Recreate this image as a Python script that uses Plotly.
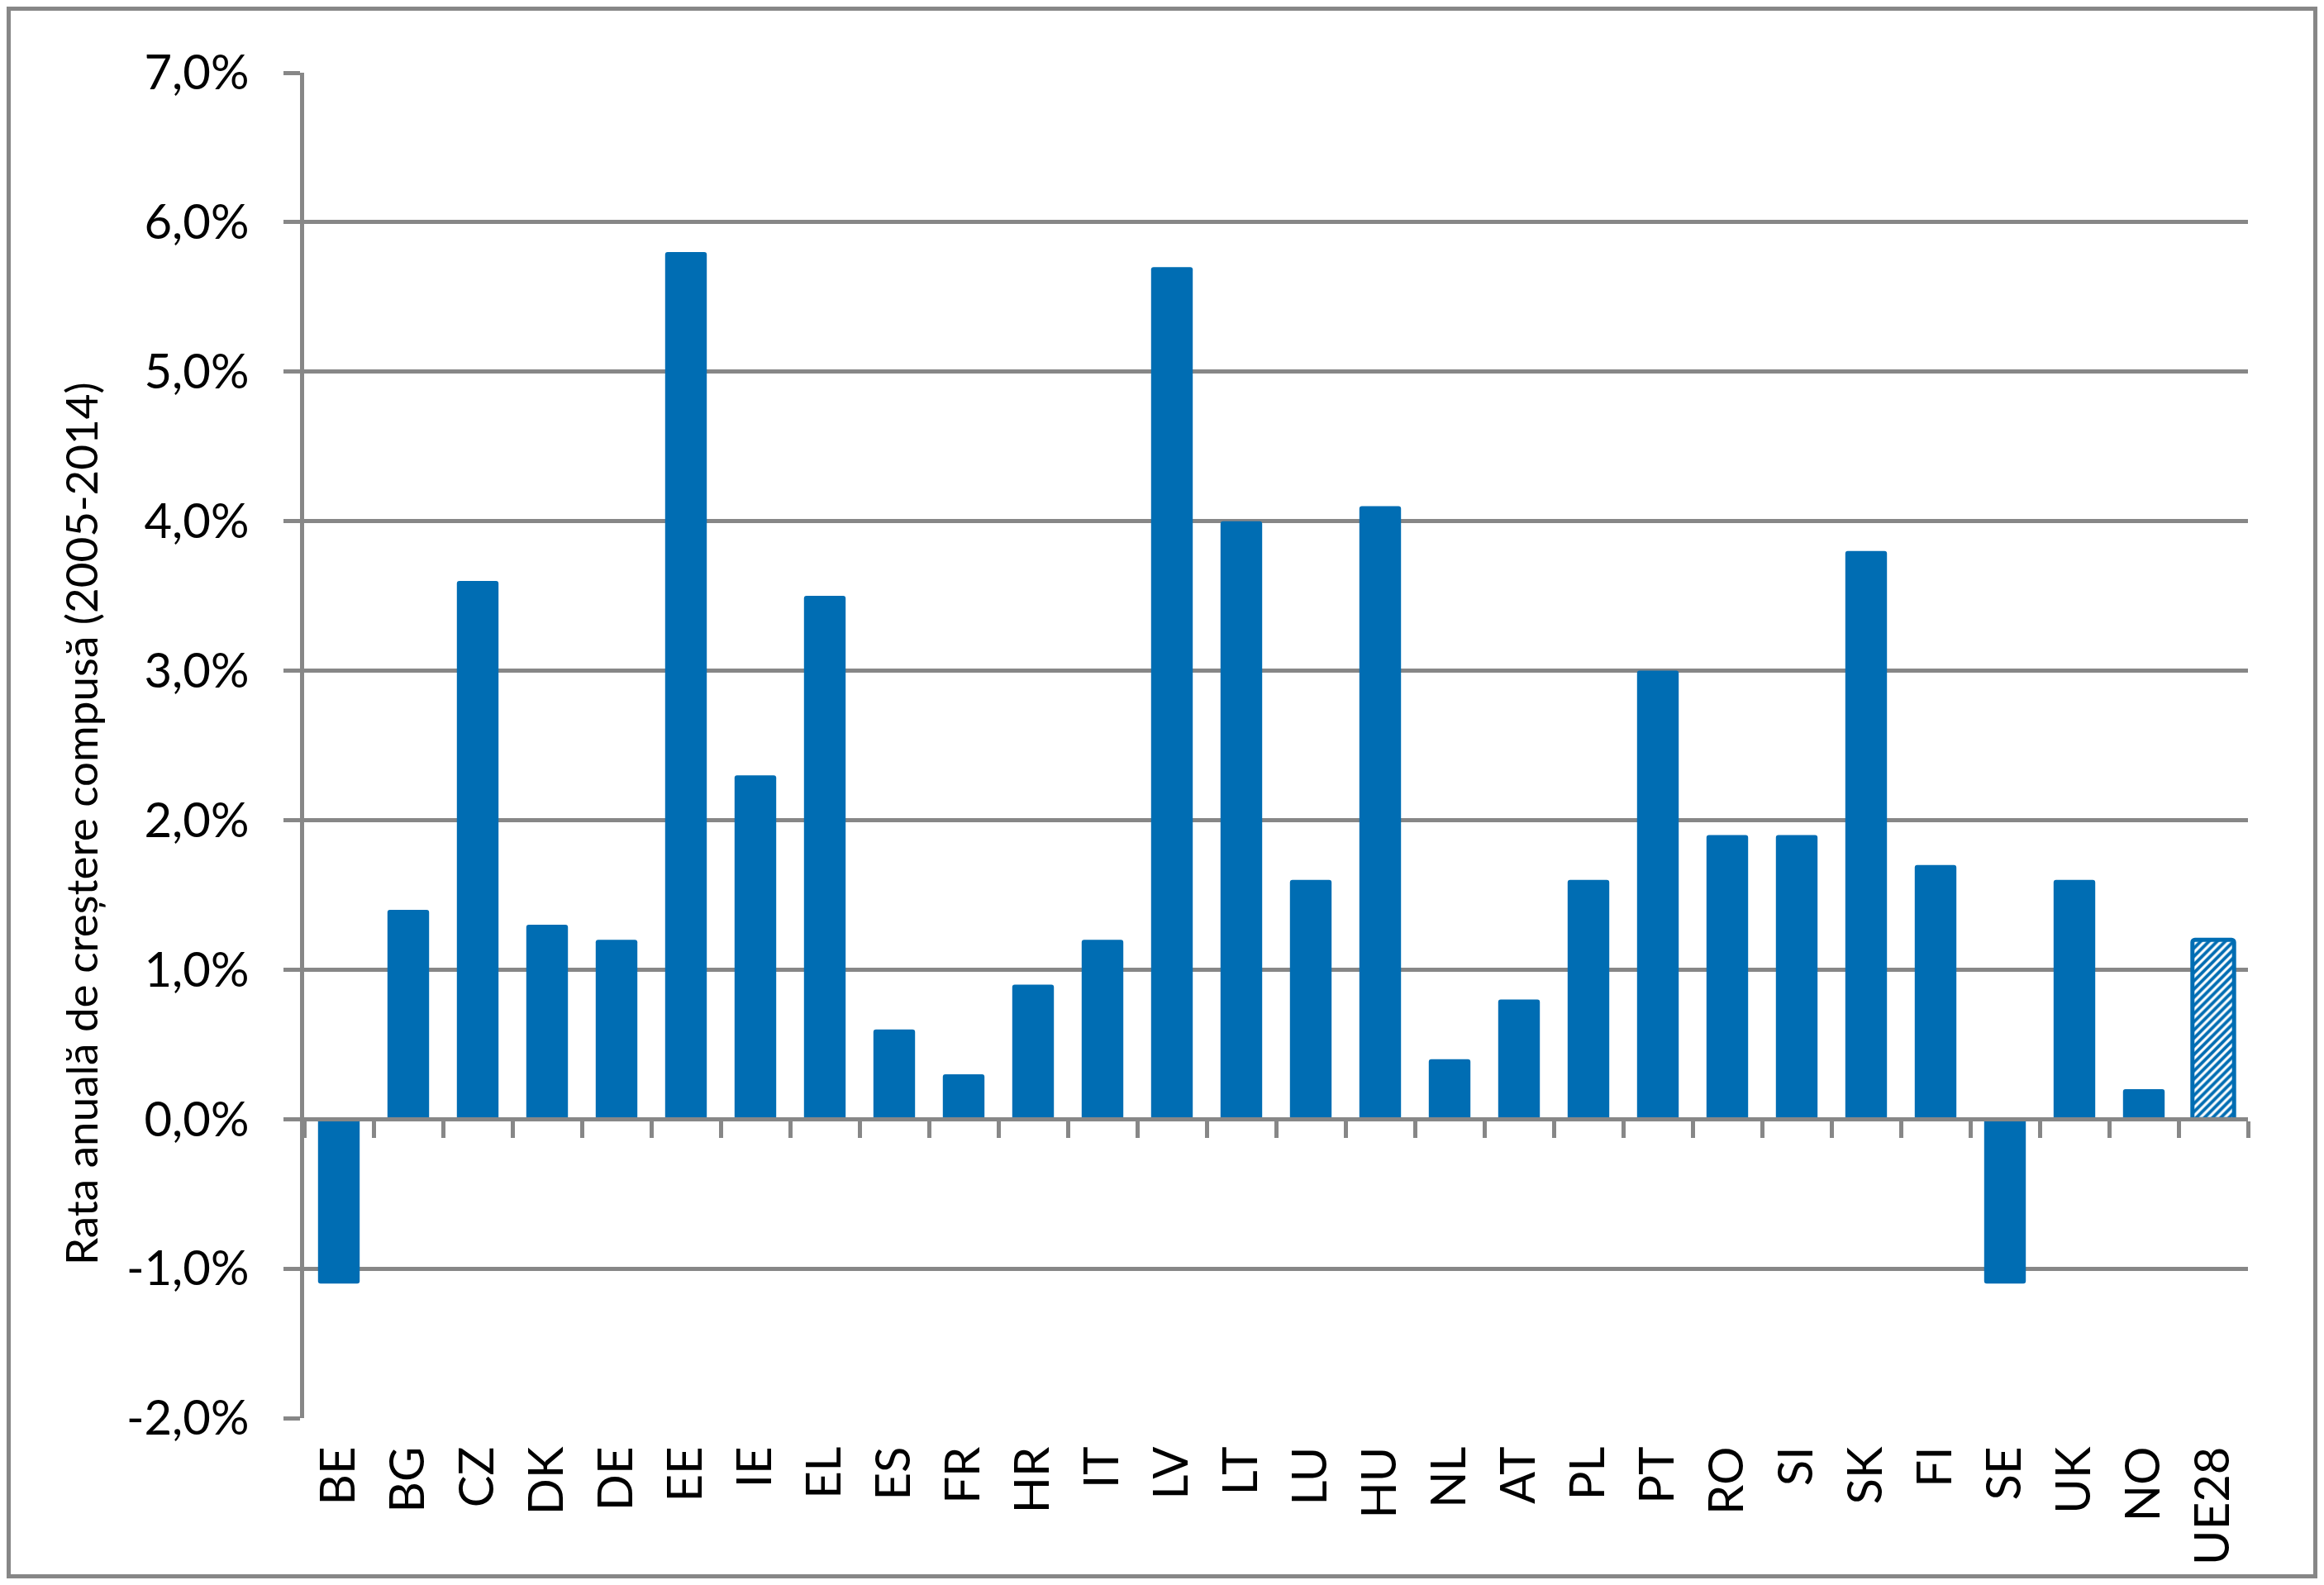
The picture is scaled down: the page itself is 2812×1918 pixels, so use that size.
import plotly.graph_objects as go

countries = ["BE", "BG", "CZ", "DK", "DE", "EE", "IE", "EL", "ES", "FR",
             "HR", "IT", "LV", "LT", "LU", "HU", "NL", "AT", "PL", "PT",
             "RO", "SI", "SK", "FI", "SE", "UK", "NO", "UE28"]
growth = [-1.1, 1.4, 3.6, 1.3, 1.2, 5.8, 2.3, 3.5, 0.6, 0.3,
          0.9, 1.2, 5.7, 4.0, 1.6, 4.1, 0.4, 0.8, 1.6, 3.0,
          1.9, 1.9, 3.8, 1.7, -1.1, 1.6, 0.2, 1.2]
y_ticks = [-2, -1, 0, 1, 2, 3, 4, 5, 6, 7]
y_tick_text = ["-2,0%", "-1,0%", "0,0%", "1,0%", "2,0%", "3,0%",
               "4,0%", "5,0%", "6,0%", "7,0%"]

BLUE = "#006DB3"
GREY = "#878787"
FONT = "Lato"

# EU average bar is hatched, the rest are solid
is_eu = [c == "UE28" for c in countries]
bar_patterns = ["/" if e else "" for e in is_eu]
bar_lines = [5 if e else 0 for e in is_eu]

# page has an 8px body margin, so the figure is a bit smaller than the window
W, H = 2796, 1902
ml, mr, mt, mb = 360, 84, 80, 194
pw, ph = W - ml - mr, H - mt - mb

fig = go.Figure()
fig.add_trace(go.Bar(
    x=countries, y=growth,
    marker=dict(
        color=BLUE,
        line=dict(color=BLUE, width=bar_lines),
        pattern=dict(shape=bar_patterns, fgcolor=BLUE, bgcolor="white",
                     size=7, solidity=0.55, fillmode="replace"),
        cornerradius=3,
    ),
    showlegend=False,
    hoverinfo="x+y",
))
# invisible copy so the zero-line axis (with boundary ticks) gets drawn
fig.add_trace(go.Scatter(
    x=countries, y=growth, xaxis="x2", mode="markers",
    marker=dict(opacity=0), showlegend=False, hoverinfo="skip",
))

y_lo, y_hi = -2, 7
fig.update_layout(
    width=W, height=H,
    margin=dict(l=ml, r=mr, t=mt, b=mb),
    paper_bgcolor="white", plot_bgcolor="white",
    font=dict(family=FONT, size=58, color="black"),
    bargap=0.4,
    xaxis=dict(
        type="category", categoryorder="array", categoryarray=countries,
        range=[-0.5, len(countries) - 0.5],
        showgrid=False, showline=False, ticks="",
        tickangle=-90, ticklabelstandoff=22,
        tickfont=dict(family=FONT, size=58),
    ),
    xaxis2=dict(
        type="category", categoryorder="array", categoryarray=countries,
        matches="x", overlaying="x", anchor="free",
        position=(0 - y_lo) / (y_hi - y_lo),
        showgrid=False, showticklabels=False,
        showline=True, linecolor=GREY, linewidth=5,
        ticks="outside", tickson="boundaries", ticklen=20,
        tickwidth=5, tickcolor=GREY,
    ),
    yaxis=dict(
        range=[y_lo, y_hi],
        tickvals=y_ticks, ticktext=y_tick_text,
        showgrid=True, gridcolor=GREY, gridwidth=5,
        zeroline=False,
        showline=True, linecolor=GREY, linewidth=5,
        ticks="outside", ticklen=20, tickwidth=5, tickcolor=GREY,
        ticklabelstandoff=30,
        tickfont=dict(family=FONT, size=58),
    ),
    annotations=[dict(
        text="Rata anuală de creștere compusă (2005-2014)",
        xref="paper", yref="paper",
        x=(89 - ml) / pw, y=(H - mb - 989) / ph,
        xanchor="center", yanchor="middle",
        textangle=-90, showarrow=False,
        font=dict(family=FONT, size=53, color="black"),
    )],
    shapes=[dict(
        type="rect", xref="paper", yref="paper",
        x0=(2.5 - ml) / pw, x1=(W - 2.5 - ml) / pw,
        y0=(H - mb - (H - 2.5)) / ph, y1=(H - mb - 2.5) / ph,
        line=dict(color=GREY, width=5), layer="below",
    )],
)

fig.write_html("out.html")
